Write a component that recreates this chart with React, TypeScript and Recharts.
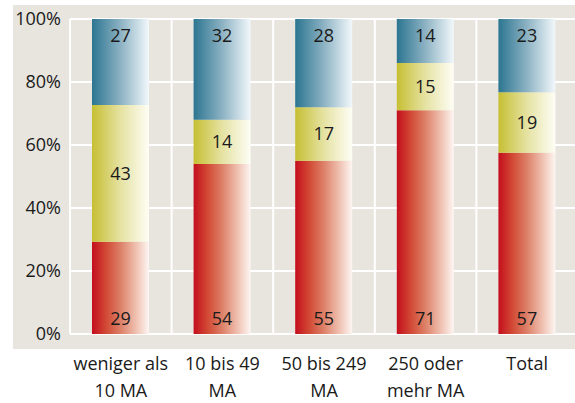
import React from "react";
import { BarChart, Bar, XAxis, YAxis, CartesianGrid, LabelList } from "recharts";

const categories = ["weniger als|10 MA", "10 bis 49|MA", "50 bis 249|MA", "250 oder|mehr MA", "Total"];
const redValues = [29, 54, 55, 71, 57];
const yellowValues = [43, 14, 17, 15, 19];
const blueValues = [27, 32, 28, 14, 23];
const yTicks = [0, 0.2, 0.4, 0.6, 0.8, 1];

const data = categories.map((c, i) => ({
  name: c,
  red: redValues[i],
  yellow: yellowValues[i],
  blue: blueValues[i],
}));

const FONT = "'Open Sans', 'Noto Sans', sans-serif";
const FS = 18;

const XTick = (props: any) => {
  const { x, y, payload } = props;
  const lines = String(payload.value).split("|");
  return (
    <g transform={`translate(${x},${y})`}>
      <text textAnchor="middle" fontFamily={FONT} fontSize={FS} fill="#1a1a1a">
        {lines.map((l, i) => (
          <tspan key={i} x={0} dy={i === 0 ? 28 : 27}>
            {l}
          </tspan>
        ))}
      </text>
    </g>
  );
};

const verticalGen = ({ offset }: any) => {
  const n = categories.length;
  const pts: number[] = [];
  for (let i = 0; i < n; i++) pts.push(offset.left + (offset.width * i) / n);
  return pts;
};

export default function App() {
  return (
    <div style={{ position: "absolute", left: 0, top: 0, width: 575, height: 403, overflow: "hidden", background: "#fff" }}>
      <div style={{ position: "absolute", left: 13, top: 5, width: 580, height: 344, background: "#e8e5df" }} />
      <div style={{ position: "absolute", left: 0, top: 0 }}>
        <BarChart
          width={590}
          height={403}
          data={data}
          stackOffset="expand"
          margin={{ top: 19, right: 12, bottom: 9, left: 0 }}
          barSize={57}
        >
          <defs>
            <linearGradient id="gRed" x1="0" y1="0" x2="1" y2="0">
              <stop offset="0" stopColor="#c40e1d" />
              <stop offset="0.25" stopColor="#d24a35" />
              <stop offset="0.5" stopColor="#dd8068" />
              <stop offset="0.75" stopColor="#eebbaa" />
              <stop offset="1" stopColor="#fdf6f3" />
            </linearGradient>
            <linearGradient id="gYellow" x1="0" y1="0" x2="1" y2="0">
              <stop offset="0" stopColor="#c6bf33" />
              <stop offset="0.5" stopColor="#e5e2a2" />
              <stop offset="1" stopColor="#fefef6" />
            </linearGradient>
            <linearGradient id="gBlue" x1="0" y1="0" x2="1" y2="0">
              <stop offset="0" stopColor="#2c7591" />
              <stop offset="0.5" stopColor="#8cb2c3" />
              <stop offset="1" stopColor="#f2f8fb" />
            </linearGradient>
          </defs>
          <CartesianGrid stroke="#ffffff" strokeWidth={2} verticalCoordinatesGenerator={verticalGen} />
          <XAxis
            dataKey="name"
            axisLine={false}
            tickLine={false}
            interval={0}
            height={60}
            tick={<XTick />}
          />
          <YAxis
            width={70}
            domain={[0, 1]}
            ticks={yTicks}
            axisLine={false}
            tickLine={false}
            tickSize={0}
            tickMargin={9}
            tickFormatter={(v: number) => `${Math.round(v * 100)}%`}
            tick={{ fontFamily: FONT, fontSize: FS, fill: "#1a1a1a" }}
          />
          <Bar dataKey="red" stackId="a" fill="url(#gRed)" isAnimationActive={false}>
            <LabelList dataKey="red" position="insideBottom" offset={9} fontFamily={FONT} fontSize={FS} fill="#1a1a1a" />
          </Bar>
          <Bar dataKey="yellow" stackId="a" fill="url(#gYellow)" isAnimationActive={false}>
            <LabelList dataKey="yellow" position="center" fontFamily={FONT} fontSize={FS} fill="#1a1a1a" />
          </Bar>
          <Bar dataKey="blue" stackId="a" fill="url(#gBlue)" isAnimationActive={false}>
            <LabelList dataKey="blue" position="insideTop" offset={10} fontFamily={FONT} fontSize={FS} fill="#1a1a1a" />
          </Bar>
        </BarChart>
      </div>
    </div>
  );
}
